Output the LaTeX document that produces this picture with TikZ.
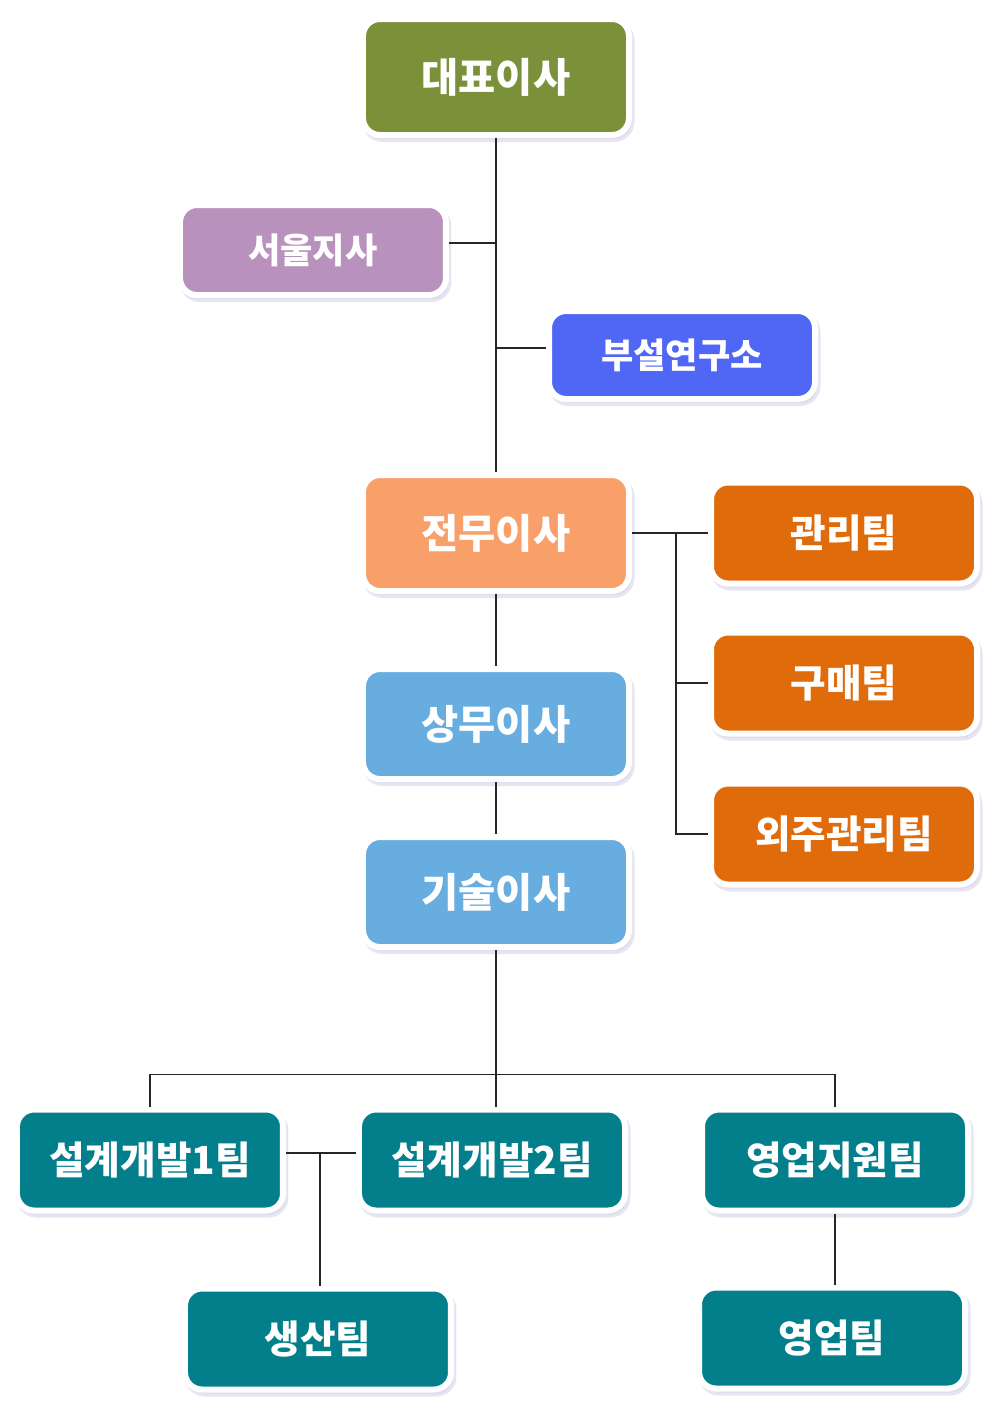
\documentclass[tikz,border=0pt]{standalone}
\usepackage{fontspec}
\usepackage{tikz}
\usetikzlibrary{
  positioning,
  shadows
}
\newfontfamily\kor{Noto Sans CJK KR}
\definecolor{ogCEO}{HTML}{7A913A}
\definecolor{ogBranch}{HTML}{B892BC}
\definecolor{ogLab}{HTML}{5066F5}
\definecolor{ogExec}{HTML}{F9A06A}
\definecolor{ogTeam}{HTML}{E06B0A}
\definecolor{ogDir}{HTML}{68ADDF}
\definecolor{ogTeal}{HTML}{037F8C}
\definecolor{ogShadow}{HTML}{CFCCE6}
\tikzset{
  orgnode/.style={
    draw=white, line width=1.2mm, rounded corners=3.4mm,
    minimum width=53.2mm, minimum height=20.2mm, text=white,
    font=\kor\bfseries\fontsize{22pt}{26pt}\selectfont,
    drop shadow={shadow xshift=0.5mm, shadow yshift=-0.8mm,
      fill=ogShadow, draw=ogShadow, line width=1.2mm}
  },
  ceo/.style={orgnode, fill=ogCEO, minimum height=23.2mm,
    font=\kor\bfseries\fontsize{23pt}{27pt}\selectfont},
  branch/.style={orgnode, fill=ogBranch, minimum height=18mm,
    font=\kor\bfseries\fontsize{20pt}{24pt}\selectfont},
  lab/.style={branch, fill=ogLab, minimum height=17.6mm},
  exec/.style={ceo, fill=ogExec},
  director/.style={ceo, fill=ogDir, minimum height=22mm},
  team/.style={orgnode, fill=ogTeam},
  unit/.style={orgnode, fill=ogTeal},
  link/.style={line width=0.8pt, black!85}
}
\begin{document}
\begin{tikzpicture}[on grid]
  \useasboundingbox (-99.2mm,15.4mm) rectangle (100.8mm,-268.6mm);
  \node[ceo] (ceo) {대표이사};
  \node[branch, below left=34.6mm and 36.6mm of ceo] (seoul) {서울지사};
  \node[lab, below right=55.6mm and 37.2mm of ceo] (lab) {부설연구소};
  \node[exec, below=91.2mm of ceo] (jeonmu) {전무이사};
  \node[team, right=69.6mm of jeonmu] (mgmt) {관리팀};
  \node[team, below=30mm of mgmt] (purchase) {구매팀};
  \node[team, below=30.2mm of purchase] (outsrc) {외주관리팀};
  \node[director, below=38.2mm of jeonmu] (sangmu) {상무이사};
  \node[director, below=33.6mm of sangmu] (gisul) {기술이사};
  \node[unit, below left=53.6mm and 0.8mm of gisul] (dev2) {설계개발2팀};
  \node[unit, left=68.4mm of dev2] (dev1) {설계개발1팀};
  \node[unit, right=68.6mm of dev2] (salesup) {영업지원팀};
  \node[unit, below right=35.8mm and 33.6mm of dev1] (prod) {생산팀};
  \node[unit, below left=35.6mm and 0.6mm of salesup] (sales) {영업팀};

  % upper trunk
  \draw[link] (ceo) -- (jeonmu);
  \draw[link] ([yshift=1.4mm]seoul.east) -- ([yshift=1.4mm]seoul.east -| ceo.south);
  \draw[link] ([yshift=1.4mm]lab.west) -- ([yshift=1.4mm]lab.west -| ceo.south);
  \draw[link] (jeonmu) -- (sangmu);
  \draw[link] (sangmu) -- (gisul);

  % teams under 전무이사
  \coordinate[right=8.8mm of jeonmu.east] (rbus);
  \draw[link] (jeonmu.east) -- (jeonmu.east -| mgmt.west);
  \draw[link] (rbus) |- (purchase.west);
  \draw[link] (rbus) |- (outsrc.west);

  % lower teams
  \draw[link] (gisul.south) -- (gisul.south |- dev2.north);
  \draw[link] (dev1.north) -- ++(0,6.4mm) -| (salesup.north);
  \draw[link] ([yshift=1.4mm]dev1.east) -- ([yshift=1.4mm]dev1.east -| dev2.west);
  \coordinate (jn) at ([xshift=6.8mm, yshift=1.4mm]dev1.east);
  \draw[link] (jn) -- (jn |- prod.north);
  \draw[link] (salesup.south) -- (salesup.south |- sales.north);
\end{tikzpicture}
\end{document}
